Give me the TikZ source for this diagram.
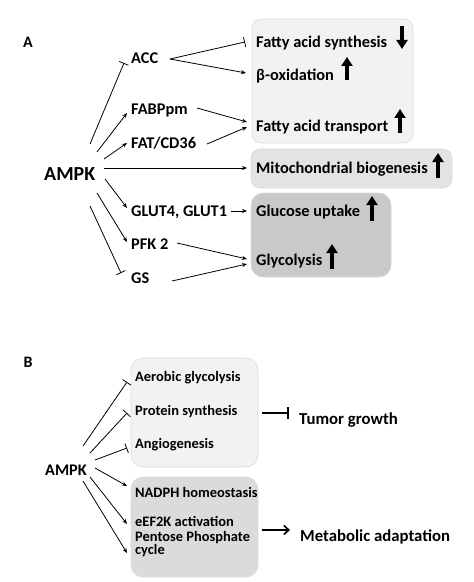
\documentclass[tikz,border=0pt]{standalone}
\usepackage{fontspec}
\setmainfont{Carlito}
\usetikzlibrary{arrows.meta}
\begin{document}
\begin{tikzpicture}[x=1bp,y=-1bp,
  lbl/.style={anchor=base west,inner sep=0pt,font=\bfseries\fontsize{16.4}{17}\selectfont,yshift=-5.5bp},
  lblb/.style={anchor=base west,inner sep=0pt,font=\bfseries\fontsize{14.5}{15}\selectfont,yshift=-4.8bp},
  act/.style={line width=0.8bp,-{Stealth[length=5bp,width=4bp]}},
  inh/.style={line width=0.8bp,-{Bar[width=10bp,line width=0.8bp]}},
  big/.style={line width=3.2bp,-{Triangle[length=9bp,width=11bp]}},
  boxa/.style={rounded corners=9bp,draw=black!14,line width=0.6bp}]
\useasboundingbox[fill=white] (0,0) rectangle (474,582);
% ---------- Panel A ----------
\node[anchor=center,inner sep=0pt,font=\bfseries\fontsize{16}{16}\selectfont] (la) at (28,42) {A};
\fill[boxa,fill=black!5] (252,19) rectangle (413,143);
\fill[boxa,fill=black!11] (251,149) rectangle (452,188);
\fill[boxa,fill=black!21,rounded corners=12bp] (251,193) rectangle (391,277);
\node[lbl,font=\bfseries\fontsize{20}{20}\selectfont,yshift=-6.5bp] (ampk) at (44,168) {AMPK};
\node[lbl] (acc) at (131,58) {ACC};
\node[lbl] (fabp) at (131,109) {FABPpm};
\node[lbl] (fat) at (131,143) {FAT/CD36};
\node[lbl] (glut) at (131,211) {GLUT4, GLUT1};
\node[lbl] (pfk) at (131,244) {PFK 2};
\node[lbl] (gs) at (131,278) {GS};
\node[lbl] (fas) at (256,42) {Fatty acid synthesis};
\node[lbl] (box) at (256,75) {β-oxidation};
\node[lbl] (fat2) at (256,126) {Fatty acid transport};
\node[lbl] (mito) at (256,168) {Mitochondrial biogenesis};
\node[lbl] (glu) at (256,211) {Glucose uptake};
\node[lbl] (gly) at (256,260) {Glycolysis};
% connectors
\coordinate (a1) at (90,144);  \coordinate (b1) at (124,63);
\coordinate (a2) at (97,152);  \coordinate (b2) at (127,113);
\coordinate (a3) at (104,159); \coordinate (b3) at (127,143);
\coordinate (a4) at (104,168); \coordinate (b4) at (247,168);
\coordinate (a5) at (105,179); \coordinate (b5) at (127,208);
\coordinate (a6) at (97,193);  \coordinate (b6) at (127,242);
\coordinate (a7) at (90,206);  \coordinate (b7) at (121,273);
\draw[inh] (a1) -- (b1);
\draw[act] (a2) -- (b2);
\draw[act] (a3) -- (b3);
\draw[act] (a4) -- (b4);
\draw[act] (a5) -- (b5);
\draw[act] (a6) -- (b6);
\draw[inh] (a7) -- (b7);
\coordinate (c0) at (170,59);
\coordinate (c1) at (245,42); \coordinate (c2) at (246,73);
\draw[inh] (c0) -- (c1);
\draw[act] (c0) -- (c2);
\coordinate (d1) at (197,108); \coordinate (d2) at (207,144); \coordinate (d3) at (247,122); \coordinate (d4) at (247,127);
\draw[act] (d1) -- (d3);
\draw[act] (d2) -- (d4);
\coordinate (e1) at (231,211); \coordinate (e2) at (247,211);
\draw[act] (e1) -- (e2);
\coordinate (f1) at (177,243); \coordinate (f2) at (172,281); \coordinate (f3) at (247,259); \coordinate (f4) at (247,264);
\draw[act] (f1) -- (f3);
\draw[act] (f2) -- (f4);
% big arrows
\draw[big] (402,26) -- (402,49);
\draw[big] (347,80) -- (347,57);
\draw[big] (400,133) -- (400,109);
\draw[big] (438,178) -- (438,153);
\draw[big] (372,221) -- (372,196);
\draw[big] (332,269) -- (332,244);
% ---------- Panel B ----------
\node[anchor=center,inner sep=0pt,font=\bfseries\fontsize{16}{16}\selectfont] (lb) at (28,362) {B};
\fill[boxa,fill=black!5,rounded corners=12bp] (131,358) rectangle (258,467);
\fill[boxa,fill=black!14,rounded corners=12bp] (131,477) rectangle (258,577);
\node[lbl,font=\bfseries\fontsize{16.3}{16}\selectfont,yshift=-5.5bp] (ampkb) at (45,464) {AMPK};
\node[lblb] (aer) at (135,377) {Aerobic glycolysis};
\node[lblb] (pro) at (135,411) {Protein synthesis};
\node[lblb] (ang) at (135,444) {Angiogenesis};
\node[lblb] (nad) at (135,493) {NADPH homeostasis};
\node[lblb] (eef) at (135,522) {eEF2K activation};
\node[lblb,align=left,font=\bfseries\fontsize{14.5}{11.5}\selectfont] (pen) at (135,550) {Pentose Phosphate\\cycle};
\node[lbl,font=\bfseries\fontsize{16.8}{17}\selectfont,yshift=-5.5bp] (tum) at (299,413) {Tumor growth};
\node[lbl,font=\bfseries\fontsize{16.8}{17}\selectfont,yshift=-5.5bp] (met) at (300,530) {Metabolic adaptation};
\coordinate (g1) at (83,446); \coordinate (h1) at (127,382);
\coordinate (g2) at (90,453); \coordinate (h2) at (127,413);
\coordinate (g3) at (95,460); \coordinate (h3) at (127,448);
\coordinate (g4) at (95,468); \coordinate (h4) at (127,486);
\coordinate (g5) at (90,477); \coordinate (h5) at (127,524);
\coordinate (g6) at (83,481); \coordinate (h6) at (127,553);
\draw[inh] (g1) -- (h1);
\draw[inh] (g2) -- (h2);
\draw[inh] (g3) -- (h3);
\draw[act] (g4) -- (h4);
\draw[act] (g5) -- (h5);
\draw[act] (g6) -- (h6);
\coordinate (k1) at (262,413); \coordinate (k2) at (289,413);
\coordinate (m1) at (262,530); \coordinate (m2) at (290,530);
\draw[line width=1.6bp,-{Bar[width=12bp,line width=1.6bp]}] (k1) -- (k2);
\draw[line width=1.6bp,-{Straight Barb[length=5bp,width=9bp,line width=1.6bp]}] (m1) -- (m2);
\end{tikzpicture}
\end{document}
